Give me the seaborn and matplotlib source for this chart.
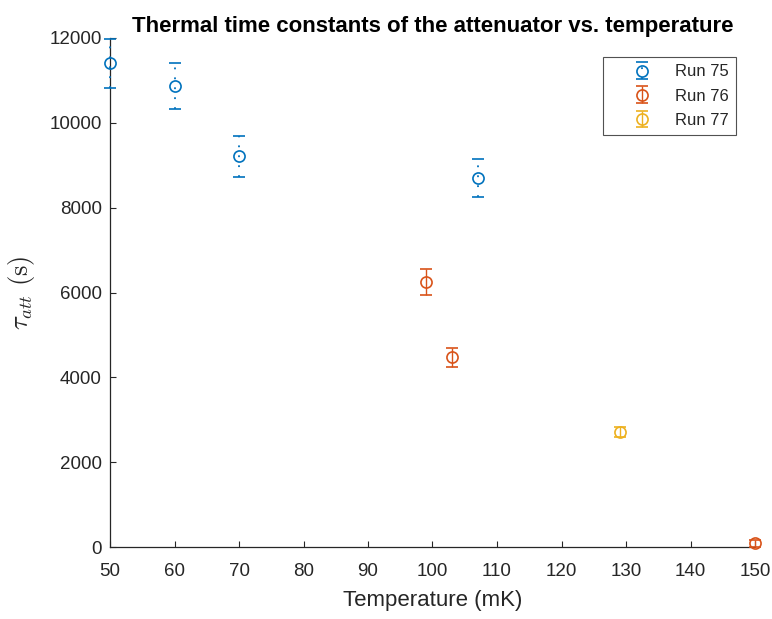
import matplotlib
matplotlib.use("Agg")
import matplotlib.pyplot as plt
import seaborn as sns
import numpy as np

# Data
run75_temp = [50, 60, 70, 107]
run75_tau = [11400, 10870, 9210, 8700]
run75_err = [570, 540, 480, 440]

run76_temp = [99, 103, 150]
run76_tau = [6250, 4470, 90]
run76_err = [300, 230, 80]

run77_temp = [129]
run77_tau = [2710]
run77_err = [110]

labels = ["Run 75", "Run 76", "Run 77"]
colors = ["#0072BD", "#D95319", "#EDB120"]
xticks = list(range(50, 151, 10))
yticks = list(range(0, 12001, 2000))

sns.set_theme(style="white")
plt.rcParams['font.family'] = ['Liberation Sans', 'DejaVu Sans']
plt.rcParams['mathtext.fontset'] = 'cm'

fig = plt.figure(figsize=(7.72, 6.19), dpi=100)
ax = fig.add_axes([110/772, 1-547/619, (755-110)/772, (547-38)/619])

series = [(run75_temp, run75_tau, run75_err), (run76_temp, run76_tau, run76_err), (run77_temp, run77_tau, run77_err)]
for i, ((x, y, e), lab, c) in enumerate(zip(series, labels, colors)):
    eb = ax.errorbar(x, y, yerr=e, fmt='o', mfc='none', mec=c, ecolor=c, color=c,
                     markersize=8, mew=1.2, capsize=4.5, capthick=1.1, elinewidth=1.0,
                     label=lab, clip_on=False, zorder=3)
    if i == 0:
        eb[2][0].set_linestyle((0, (1, 4.5)))
        eb[2][0].set_linewidth(1.3)

ax.set_xlim(50, 150)
ax.set_ylim(0, 12000)
ax.set_xticks(xticks)
ax.set_yticks(yticks)
ax.tick_params(direction='in', length=4.5, width=0.8, colors='#262626', labelsize=13.5,
               bottom=True, left=True)
ax.tick_params(axis='x', pad=11.5)
ax.tick_params(axis='y', pad=6)
sns.despine(ax=ax)
for s in ['left', 'bottom']:
    ax.spines[s].set_color('#262626')
    ax.spines[s].set_linewidth(0.9)

ax.set_xlabel('Temperature (mK)', fontsize=16, color='#262626', labelpad=7)
ax.set_ylabel(r'$\tau_{att}\ (\mathrm{s})$', fontsize=19, color='#262626', labelpad=9)
ax.set_title('Thermal time constants of the attenuator vs. temperature', fontsize=16,
             fontweight='bold', color='black', pad=4.5)

leg = ax.legend(loc='upper right', bbox_to_anchor=((736-110)/645, (547-57)/509), borderaxespad=0,
                fontsize=12, frameon=True, fancybox=False, edgecolor='#262626',
                handlelength=3.75, handletextpad=0.1, borderpad=0.45, labelspacing=0.55)
leg.get_frame().set_linewidth(0.8)

fig.savefig('out.png', dpi=100, facecolor='white')
